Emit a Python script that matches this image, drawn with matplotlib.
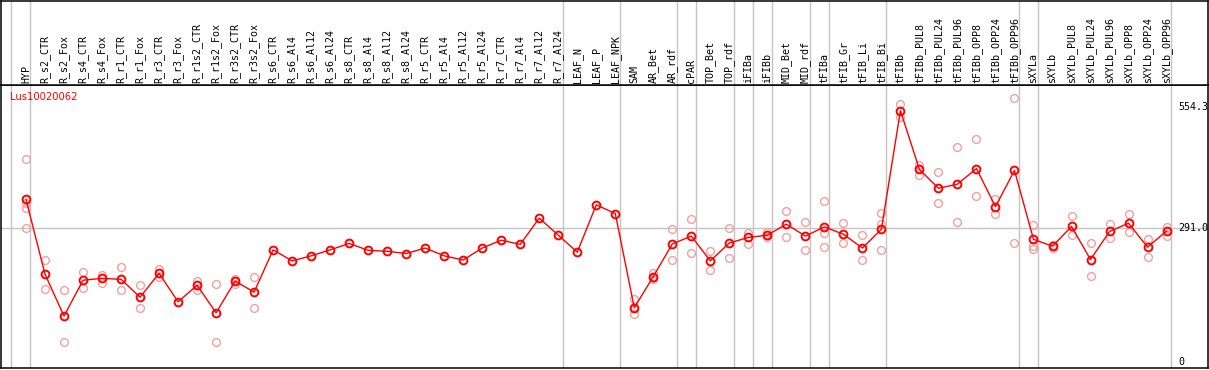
import matplotlib
matplotlib.use('Agg')
import matplotlib.pyplot as plt

categories = ["HYP", "R_s2_CTR", "R_s2_Fox", "R_s4_CTR", "R_s4_Fox", "R_r1_CTR", "R_r1_Fox",
              "R_r3_CTR", "R_r3_Fox", "R_r1s2_CTR", "R_r1s2_Fox", "R_r3s2_CTR", "R_r3s2_Fox",
              "R_s6_CTR", "R_s6_Al4", "R_s6_Al12", "R_s6_Al24", "R_s8_CTR", "R_s8_Al4",
              "R_s8_Al12", "R_s8_Al24", "R_r5_CTR", "R_r5_Al4", "R_r5_Al12", "R_r5_Al24",
              "R_r7_CTR", "R_r7_Al4", "R_r7_Al12", "R_r7_Al24", "LEAF_N", "LEAF_P", "LEAF_NPK",
              "SAM", "AR_Bet", "AR_rdf", "cPAR", "TOP_Bet", "TOP_rdf", "iFIBa", "iFIBb",
              "MID_Bet", "MID_rdf", "tFIBa", "tFIB_Gr", "tFIB_Li", "tFIB_Bi", "tFIBb",
              "tFIBb_PUL8", "tFIBb_PUL24", "tFIBb_PUL96", "tFIBb_OPP8", "tFIBb_OPP24",
              "tFIBb_OPP96", "sXYLa", "sXYLb", "sXYLb_PUL8", "sXYLb_PUL24", "sXYLb_PUL96",
              "sXYLb_OPP8", "sXYLb_OPP24", "sXYLb_OPP96"]

means = [354, 191, 100, 178, 182, 180, 141, 193, 131, 167, 107, 176, 152,
         244, 220, 231, 244, 258, 243, 241, 236, 248, 231, 222, 248,
         265, 256, 313, 276, 239, 342, 323,
         118, 186, 257, 274, 220, 259, 271, 276, 300, 274,
         294, 278, 248, 289,
         547, 419, 378, 387, 421, 338, 417,
         267, 252, 295, 223, 284, 302, 250, 285]

replicates = [[441, 345, 336, 291], [221, 158], [156, 43], [195, 160], [189, 173],
              [207, 156], [167, 117], [202, 186], [], [176, 157], [170, 43], [181, 170],
              [186, 117],
              [], [], [], [], [], [], [], [], [], [], [], [], [], [], [], [], [], [], [],
              [137, 104, 120], [194, 181], [289, 221], [311, 237], [241, 200], [292, 226],
              [281, 256], [283, 271], [328, 271], [305, 244],
              [350, 281, 250], [302, 260], [276, 221], [324, 300, 243],
              [561, 534], [429, 408], [413, 345], [467, 304], [485, 361], [355, 323],
              [574, 260],
              [298, 253, 245], [255, 249], [318, 276], [258, 188], [300, 269], [321, 282],
              [267, 229], [294, 275]]

group_ends = [-1, 0, 28, 31, 34, 35, 37, 38, 39, 41, 42, 45, 52, 53, 60]
ref_value = 291.0
max_value = 554.3
gene = "Lus10020062"

W, H = 1209, 370
fig = plt.figure(figsize=(W / 100, H / 100), dpi=100)
L, R = 1, 1208
sep, bot = 85, 368
ax = fig.add_axes([L / W, (H - bot) / H, (R - L) / W, (bot - sep) / H])
hx = fig.add_axes([L / W, (H - sep) / H, (R - L) / W, (sep - 0.5) / H], sharex=ax)

xlim = (-1.315, 62.18)
ax.set_xlim(*xlim)
ax.set_ylim(-13.06, 602.8)
hx.set_ylim(0, 1)

grey = '#c4c4c4'
for g in group_ends:
    ax.axvline(g + 0.23, color=grey, lw=1.0, zorder=1)
    hx.axvline(g + 0.23, color=grey, lw=1.0, zorder=1)
ax.axhline(ref_value, color=grey, lw=1.0, zorder=1)

xs = list(range(len(categories)))
for i, reps in enumerate(replicates):
    if reps:
        ax.plot([i] * len(reps), reps, linestyle='none', marker='o', markersize=5.6,
                markerfacecolor='none', markeredgecolor='#f2a0a0', markeredgewidth=1.0, zorder=2)
ax.plot(xs, means, color='#ff0000', lw=1.0, marker='o', markersize=5.6,
        markerfacecolor='none', markeredgecolor='#ff0000', markeredgewidth=1.4, zorder=3)

mono = 'DejaVu Sans Mono'
for i, c in enumerate(categories):
    hx.text(i, 2 / 85, c, rotation=90, ha='center', va='bottom', fontsize=7.2,
            family=mono, color='black')

ax.text(9 / 1207, 1 - 12 / 283, gene, transform=ax.transAxes, color='#ff0000',
        fontsize=7.2, family='DejaVu Sans', ha='left', va='center')

for v, lab in [(max_value, '554.3'), (ref_value, '291.0'), (0, '0')]:
    ax.text((1178 - 26) / 19.01, v, lab, ha='left', va='center', fontsize=7.2,
            family=mono, color='black')

for a in (ax, hx):
    a.set_xticks([])
    a.set_yticks([])
    for s in a.spines.values():
        s.set_color('black')
        s.set_linewidth(1.1)

fig.savefig('out.png', dpi=100)
